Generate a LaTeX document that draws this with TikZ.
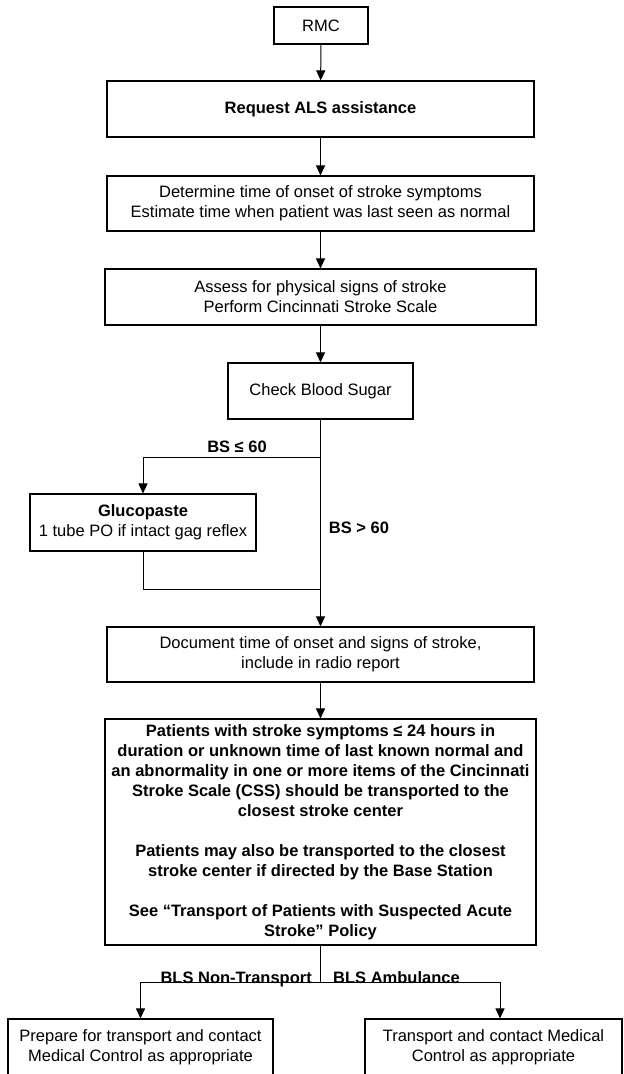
\documentclass[tikz,border=0pt]{standalone}
\usepackage{fontspec}
\setmainfont{Liberation Sans}
\usetikzlibrary{arrows.meta,positioning}

\begin{document}
\begin{tikzpicture}[x=1pt,y=-1pt,
		font=\fontsize{16.5}{20}\selectfont,
		box/.style={draw,line width=1.1pt,align=center,inner sep=0pt},
		link/.style={line width=1pt},
		arr/.style={link,-{Triangle[length=10pt,width=9pt]}},
		lbl/.style={font=\fontsize{16.5}{20}\selectfont\bfseries,inner sep=0pt}]
			\useasboundingbox (0,0) rectangle (624,1074);
			\node[box,minimum width=94,minimum height=37] (rmc) at (321,25.5) {RMC};
			\node[box,minimum width=427,minimum height=56] (als) at (320.5,109) {\bfseries Request ALS assistance};
			\node[box,minimum width=427,minimum height=55] (onset) at (320.5,203.5)
			  {Determine time of onset of stroke symptoms\\Estimate time when patient was last seen as normal};
			\node[box,minimum width=431,minimum height=56] (signs) at (320.5,297)
			  {Assess for physical signs of stroke\\Perform Cincinnati Stroke Scale};
			\node[box,minimum width=185,minimum height=56] (sugar) at (320.5,391) {Check Blood Sugar};
			\node[box,minimum width=226,minimum height=57] (gluco) at (143,522.5)
			  {\bfseries Glucopaste\\1 tube PO if intact gag reflex};
			\node[box,minimum width=427,minimum height=55] (radio) at (320.5,654.5)
			  {Document time of onset and signs of stroke,\\include in radio report};
			\node[box,minimum width=431,minimum height=226] (css) at (320.5,832)
			  {\bfseries Patients with stroke symptoms ≤ 24 hours in\\\bfseries duration or unknown time of last known normal and\\
			   \bfseries an abnormality in one or more items of the Cincinnati\\\bfseries Stroke Scale (CSS) should be transported to the\\
			   \bfseries closest stroke center\\[20pt]
			   \bfseries Patients may also be transported to the closest\\\bfseries stroke center if directed by the Base Station\\[20pt]
			   \bfseries See “Transport of Patients with Suspected Acute\\\bfseries Stroke” Policy};
			\node[box,minimum width=265,minimum height=57] (prep) at (140.5,1047.5)
			  {Prepare for transport and contact\\Medical Control as appropriate};
			\node[box,minimum width=257,minimum height=57] (amb) at (493.5,1047.5)
			  {Transport and contact Medical\\Control as appropriate};

			\coordinate (split) at (320.5,457);
			\coordinate (merge) at (320.5,589);
			\coordinate (fork) at (320.5,982);
			\coordinate (ambturn) at (500,982);

			\draw[arr] (rmc) -- (als);
			\draw[arr] (als) -- (onset);
			\draw[arr] (onset) -- (signs);
			\draw[arr] (signs) -- (sugar);
			\draw[arr] (sugar) -- (radio);
			\draw[arr] (split) -| (gluco.north);
			\draw[link] (gluco.south) |- (merge);
			\draw[arr] (radio) -- (css);
			\draw[link] (css.south) -- (fork);
			\draw[arr] (fork) -| (prep.north);
			\draw[arr] (fork) -- (ambturn) -- (ambturn |- amb.north);

			\node[lbl] (low) at (237,447) {BS ≤ 60};
			\node[lbl] (high) at (359,528) {BS > 60};
			\node[lbl,anchor=base east] (nontr) at (312,983) {BLS Non-Transport};
			\node[lbl,anchor=base west] (ambl) at (333,983) {BLS Ambulance};
\end{tikzpicture}
\end{document}
